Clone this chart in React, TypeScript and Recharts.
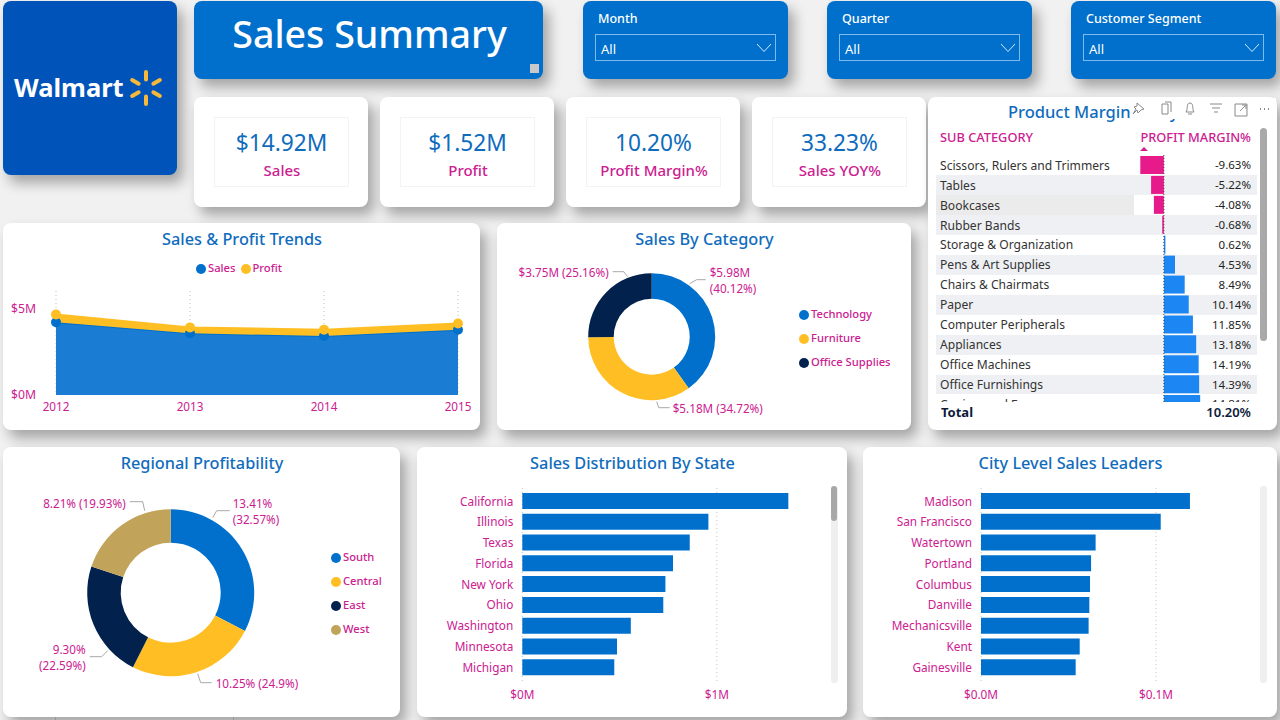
import React from 'react';
import {
  AreaChart, Area, BarChart, Bar, PieChart, Pie, Cell, XAxis, YAxis, CartesianGrid, ReferenceLine,
} from 'recharts';

const FONT = "'Noto Sans', sans-serif";
const BLUE = '#0070cc';
const TITLE_BLUE = '#0f6cbd';
const PINK = '#cc2090';
const YELLOW = '#ffbf24';
const NAVY = '#03214d';
const TAN = '#c2a35a';
const SHADOW = '6px 8px 13px rgba(0,0,0,0.32)';

// trends
const years = ['2012', '2013', '2014', '2015'];
const yearSales = [4.2, 3.56, 3.4, 3.76];
const yearProfit = [0.44, 0.34, 0.37, 0.37];

// category donut
const categories = ['Technology', 'Furniture', 'Office Supplies'];
const categorySales = [5.98, 5.18, 3.75];
const categoryLabels = [['$5.98M', '(40.12%)'], ['$5.18M (34.72%)'], ['$3.75M (25.16%)']];

// region donut
const regions = ['South', 'Central', 'East', 'West'];
const regionMargin = [13.41, 10.25, 9.3, 8.21];
const regionLabels = [['13.41%', '(32.57%)'], ['10.25% (24.9%)'], ['9.30%', '(22.59%)'], ['8.21% (19.93%)']];

// bars
const states = ['California', 'Illinois', 'Texas', 'Florida', 'New York', 'Ohio', 'Washington', 'Minnesota', 'Michigan'];
const stateSales = [1.368, 0.957, 0.861, 0.775, 0.736, 0.725, 0.558, 0.487, 0.473];
const cities = ['Madison', 'San Francisco', 'Watertown', 'Portland', 'Columbus', 'Danville', 'Mechanicsville', 'Kent', 'Gainesville'];
const citySales = [0.1194, 0.1027, 0.0655, 0.0629, 0.0623, 0.0619, 0.0615, 0.0564, 0.0541];

// margin table
const subCategories = [
  'Scissors, Rulers and Trimmers', 'Tables', 'Bookcases', 'Rubber Bands', 'Storage & Organization',
  'Pens & Art Supplies', 'Chairs & Chairmats', 'Paper', 'Computer Peripherals', 'Appliances',
  'Office Machines', 'Office Furnishings', 'Copiers and Fax',
];
const subMargins = [-9.63, -5.22, -4.08, -0.68, 0.62, 4.53, 8.49, 10.14, 11.85, 13.18, 14.19, 14.39, 14.81];

// header cards
const kpiValues = ['$14.92M', '$1.52M', '10.20%', '33.23%'];
const kpiNames = ['Sales', 'Profit', 'Profit Margin%', 'Sales YOY%'];
const slicers = ['Month', 'Quarter', 'Customer Segment'];

const trendData = years.map((year, i) => ({ year, sales: yearSales[i], profit: yearProfit[i] }));
const categoryData = categories.map((name, i) => ({ name, value: categorySales[i] }));
const regionData = regions.map((name, i) => ({ name, value: regionMargin[i] }));
const stateData = states.map((name, i) => ({ name, value: stateSales[i] }));
const cityData = cities.map((name, i) => ({ name, value: citySales[i] }));
const marginData = subCategories.map((name, i) => ({ name, value: subMargins[i] }));

// leader line points and text spot per slice, relative to the donut centre
const categoryCallouts = [
  { line: [[38, -53], [45, -57], [54, -57]], x: 58, ys: [-64, -48], anchor: 'start' },
  { line: [[5, 65], [7, 71], [18, 71]], x: 21, ys: [72], anchor: 'start' },
  { line: [[-24, -60], [-28, -65], [-39, -65]], x: -43, ys: [-64], anchor: 'end' },
];
const regionCallouts = [
  { line: [[42, -75], [46, -82], [59, -82]], x: 62, ys: [-89, -73], anchor: 'start' },
  { line: [[27, 81], [30, 90], [41, 90]], x: 45, ys: [91], anchor: 'start' },
  { line: [[-63, 58], [-69, 64], [-81, 64]], x: -85, ys: [57, 73], anchor: 'end' },
  { line: [[-26, -82], [-28, -91], [-41, -91]], x: -45, ys: [-89], anchor: 'end' },
];

function Txt({ x, y, size, color, anchor = 'start', weight = 400, children }: any) {
  const shift = anchor === 'middle' ? '-50%' : anchor === 'end' ? '-100%' : '0';
  return (
    <div
      style={{
        position: 'absolute', left: x, top: y, transform: `translate(${shift}, -50%)`, fontSize: size, color,
        fontWeight: weight, whiteSpace: 'nowrap', lineHeight: 1,
      }}
    >
      {children}
    </div>
  );
}

function Box({ x, y, w, h, bg = '#fff', children }: any) {
  return (
    <div style={{ position: 'absolute', left: x, top: y, width: w, height: h, background: bg, borderRadius: 8, boxShadow: SHADOW }}>
      {children}
    </div>
  );
}

function DotLegend({ x, ys, names, colors }: any) {
  return (
    <>
      {names.map((name: string, i: number) => (
        <React.Fragment key={name}>
          <div style={{ position: 'absolute', left: x - 5, top: ys[i] - 5, width: 10, height: 10, borderRadius: 5, background: colors[i] }} />
          <Txt x={x + 7} y={ys[i] - 1} size={11.2} color={PINK} weight={500}>{name}</Txt>
        </React.Fragment>
      ))}
    </>
  );
}

function calloutLabel(callouts: any[], lines: string[][]) {
  return (props: any) => {
    const c = callouts[props.index];
    const { cx, cy } = props;
    return (
      <g key={props.index}>
        <polyline
          points={c.line.map((p: number[]) => `${cx + p[0]},${cy + p[1]}`).join(' ')}
          fill="none" stroke="#a8a8a8" strokeWidth={1}
        />
        {lines[props.index].map((t, j) => (
          <text key={t} x={cx + c.x} y={cy + c.ys[j]} dy="0.35em" textAnchor={c.anchor} fontSize={11.7} fill={PINK} fontFamily={FONT}>
            {t}
          </text>
        ))}
      </g>
    );
  };
}

function TrendChart() {
  return (
    <AreaChart width={477} height={207} data={trendData} margin={{ top: 68, right: 22, bottom: 0, left: 0 }}>
      <CartesianGrid horizontal={false} strokeDasharray="1 3" stroke="#bdbdbd" />
      <XAxis
        dataKey="year" axisLine={false} tickLine={false} tickSize={0} tickMargin={8} height={35} interval={0}
        tick={{ fill: PINK, fontSize: 11.7, fontFamily: FONT }}
      />
      <YAxis
        domain={[0, 6]} ticks={[0, 5]} width={53} axisLine={false} tickLine={false} tickSize={0} tickMargin={20}
        tickFormatter={(v: number) => `$${v}M`} tick={{ fill: PINK, fontSize: 12.2, fontFamily: FONT }}
      />
      <Area
        type="linear" dataKey="sales" stackId="1" stroke={BLUE} strokeWidth={2} fill="#1a7cd2" fillOpacity={1}
        dot={{ r: 4, fill: BLUE, stroke: BLUE, fillOpacity: 1 }} isAnimationActive={false}
      />
      <Area
        type="linear" dataKey="profit" stackId="1" stroke={YELLOW} strokeWidth={2} fill={YELLOW} fillOpacity={1}
        dot={{ r: 4, fill: YELLOW, stroke: YELLOW, fillOpacity: 1 }} isAnimationActive={false}
      />
    </AreaChart>
  );
}

function Donut({ w, h, cx, cy, inner, outer, data, colors, label }: any) {
  return (
    <PieChart width={w} height={h} margin={{ top: 0, right: 0, bottom: 0, left: 0 }}>
      <Pie
        data={data} dataKey="value" cx={cx} cy={cy} innerRadius={inner} outerRadius={outer} startAngle={90} endAngle={-270}
        stroke="none" label={label} labelLine={false} isAnimationActive={false}
      >
        {data.map((entry: any, i: number) => (
          <Cell key={entry.name} fill={colors[i]} />
        ))}
      </Pie>
    </PieChart>
  );
}

function HBars({ w, h, axisWidth, right, data, domain, ticks, fmt }: any) {
  return (
    <BarChart width={w} height={h} data={data} layout="vertical" margin={{ top: 41, right, bottom: 0, left: 0 }} barSize={16}>
      <CartesianGrid horizontal={false} strokeDasharray="1 3" stroke="#c4c4c4" syncWithTicks />
      <XAxis
        type="number" domain={domain} ticks={ticks} axisLine={false} tickLine={false} tickSize={0} tickMargin={8} height={34}
        tickFormatter={fmt} tick={{ fill: PINK, fontSize: 11.8, fontFamily: FONT }}
      />
      <YAxis
        type="category" dataKey="name" width={axisWidth} axisLine={false} tickLine={false} tickSize={0} tickMargin={9} interval={0}
        padding={{ top: 3, bottom: 5 }} tick={{ fill: PINK, fontSize: 11.8, fontFamily: FONT }}
      />
      <Bar dataKey="value" fill={BLUE} isAnimationActive={false} />
    </BarChart>
  );
}

function MarginTable() {
  return (
    <>
      <div style={{ position: 'absolute', left: 936, top: 155.4, width: 321, height: 247, overflow: 'hidden' }}>
        {subCategories.map((name, i) => (
          <div
            key={name}
            style={{ position: 'absolute', left: 0, top: i * 19.92, width: 321, height: 19.92, background: i % 2 ? '#eef0f3' : '#fff' }}
          >
            {i === 2 && <div style={{ position: 'absolute', left: 0, top: 0, width: 198, height: 19.92, background: '#ebebeb' }} />}
            <Txt x={4} y={10.4} size={12.1} color="#333">{name}</Txt>
            <Txt x={315} y={10} size={11.5} color="#222" anchor="end">{subMargins[i].toFixed(2)}%</Txt>
          </div>
        ))}
        <div style={{ position: 'absolute', left: 0, top: 0 }}>
          <BarChart width={321} height={259} data={marginData} layout="vertical" margin={{ top: 0, right: 0, bottom: 0, left: 0 }} barSize={18}>
            <XAxis type="number" domain={[-93, 38]} hide />
            <YAxis type="category" dataKey="name" hide />
            <ReferenceLine x={0} stroke="#444" strokeDasharray="1 2" />
            <Bar dataKey="value" isAnimationActive={false}>
              {marginData.map((d) => (
                <Cell key={d.name} fill={d.value < 0 ? '#e71a8c' : '#1c86f2'} />
              ))}
            </Bar>
          </BarChart>
        </div>
      </div>
      <div style={{ position: 'absolute', left: 1260, top: 128, width: 7, height: 213, borderRadius: 4, background: '#a9a9a9' }} />
    </>
  );
}

function VisualIcons() {
  return (
    <svg style={{ position: 'absolute', left: 1128, top: 98, width: 148, height: 22 }} viewBox="0 0 148 22" fill="none" stroke="#8a8a8a" strokeWidth={1}>
      <path d="M9 5 l7 6 -3 1 -3 3 -1 -3 -4 4 3 -5 -2 -2 3 -1z" />
      <path d="M34 6 h6 v10 h-6z M37 4 h6 v10" />
      <path d="M58 14 c2 -2 0 -9 4 -9 s2 7 4 9z M60 16 h4" />
      <path d="M82 6 h12 M84 10 h8 M86 14 h4" />
      <path d="M107 6 h12 v12 h-12z M112 13 l6 -6 M114 7 h4 v4" />
      <path d="M132 11 h1 M136 11 h1 M140 11 h1" strokeWidth={2} />
    </svg>
  );
}

function Spark() {
  return (
    <svg style={{ position: 'absolute', left: 126, top: 68, width: 40, height: 40 }} viewBox="-20 -20 40 40">
      {[0, 60, 120, 180, 240, 300].map((a) => (
        <rect key={a} x={-2} y={-18} width={4} height={11.5} rx={2} fill="#f6b93b" transform={`rotate(${a})`} />
      ))}
    </svg>
  );
}

export default function App() {
  return (
    <div style={{ position: 'absolute', left: 0, top: 0, width: 1280, height: 720, background: '#f1f1f1', fontFamily: FONT, overflow: 'hidden' }}>
      <Box x={3} y={1} w={174} h={174} bg="#0053b8" />
      <Txt x={14} y={88} size={25.5} color="#fff" weight={700}>Walmart</Txt>
      <Spark />

      <Box x={194} y={1} w={349} h={78} bg={BLUE} />
      <Txt x={369.5} y={34} size={37.6} color="#fff" anchor="middle" weight={500}>Sales Summary</Txt>
      <div style={{ position: 'absolute', left: 530, top: 64, width: 9, height: 9, background: '#c9c9c9' }} />

      {slicers.map((name, i) => {
        const x = [583, 827, 1071][i];
        return (
          <React.Fragment key={name}>
            <Box x={x} y={1} w={205} h={78} bg={BLUE} />
            <Txt x={x + 15} y={18.5} size={12.5} color="#fff" weight={500}>{name}</Txt>
            <div style={{ position: 'absolute', left: x + 12, top: 34, width: 179, height: 25, border: '1px solid #7dbbec' }} />
            <Txt x={x + 18} y={48.5} size={13} color="#fff">All</Txt>
            <svg style={{ position: 'absolute', left: x + 173, top: 43, width: 16, height: 10 }} viewBox="0 0 16 10" fill="none" stroke="#d5e9fa" strokeWidth={1}>
              <polyline points="1,1 8,8.5 15,1" />
            </svg>
          </React.Fragment>
        );
      })}

      {kpiValues.map((value, i) => {
        const x = [194, 380, 566, 752][i];
        return (
          <React.Fragment key={value}>
            <Box x={x} y={97} w={174} h={110} />
            <div style={{ position: 'absolute', left: x + 20, top: 117, width: 133, height: 68, border: '1px solid #f3f3f3' }} />
            <Txt x={x + 87.5} y={143} size={22.7} color={TITLE_BLUE} anchor="middle">{value}</Txt>
            <Txt x={x + 88} y={170} size={15} color={PINK} anchor="middle" weight={500}>{kpiNames[i]}</Txt>
          </React.Fragment>
        );
      })}

      <Box x={928} y={97} w={349} h={333} />
      <Txt x={1008} y={111.5} size={16.5} color={TITLE_BLUE} weight={500}>Product Margin Analysis</Txt>
      <div style={{ position: 'absolute', left: 1130, top: 98, width: 146, height: 20.5, background: '#fff' }} />
      <VisualIcons />
      <Txt x={940} y={137} size={12.8} color={PINK} weight={500}>SUB CATEGORY</Txt>
      <Txt x={1251} y={137} size={12.8} color={PINK} anchor="end" weight={500}>PROFIT MARGIN%</Txt>
      <div style={{ position: 'absolute', left: 1140, top: 147, width: 0, height: 0, borderLeft: '4px solid transparent', borderRight: '4px solid transparent', borderBottom: `4px solid ${PINK}` }} />
      <MarginTable />
      <Txt x={941} y={412} size={13} color="#0d1b3a" weight={700}>Total</Txt>
      <Txt x={1251} y={412} size={13} color="#0d1b3a" anchor="end" weight={600}>10.20%</Txt>

      <Box x={3} y={223} w={477} h={207}>
        <TrendChart />
      </Box>
      <Txt x={242} y={238.5} size={16.3} color={TITLE_BLUE} anchor="middle" weight={500}>Sales &amp; Profit Trends</Txt>
      <DotLegend x={201} ys={[269]} names={['Sales']} colors={[BLUE]} />
      <DotLegend x={245.5} ys={[269]} names={['Profit']} colors={[YELLOW]} />

      <Box x={497} y={223} w={414} h={207}>
        <Donut
          w={414} h={207} cx={154.7} cy={113.7} inner={38} outer={63.5} data={categoryData}
          colors={[BLUE, YELLOW, NAVY]} label={calloutLabel(categoryCallouts, categoryLabels)}
        />
      </Box>
      <Txt x={704.5} y={238.5} size={16.3} color={TITLE_BLUE} anchor="middle" weight={500}>Sales By Category</Txt>
      <DotLegend x={804} ys={[314.5, 338.5, 362.5]} names={categories} colors={[BLUE, YELLOW, NAVY]} />

      <Box x={3} y={447} w={397} h={270}>
        <Donut
          w={397} h={270} cx={167.7} cy={145.7} inner={50} outer={83.5} data={regionData}
          colors={[BLUE, YELLOW, NAVY, TAN]} label={calloutLabel(regionCallouts, regionLabels)}
        />
      </Box>
      <Txt x={202} y={462.5} size={16.3} color={TITLE_BLUE} anchor="middle" weight={500}>Regional Profitability</Txt>
      <DotLegend x={336} ys={[558, 582, 606, 630]} names={regions} colors={[BLUE, YELLOW, NAVY, TAN]} />

      <Box x={417} y={447} w={430} h={270}>
        <HBars
          w={430} h={270} axisWidth={105.3} right={33} data={stateData} domain={[0, 1.5]} ticks={[0, 1]}
          fmt={(v: number) => `$${v}M`}
        />
        <div style={{ position: 'absolute', left: 413.5, top: 39, width: 7, height: 197, borderRadius: 3, background: '#efefef' }} />
        <div style={{ position: 'absolute', left: 414, top: 39, width: 6, height: 35, borderRadius: 3, background: '#a8a8a8' }} />
      </Box>
      <Txt x={632.5} y={462.5} size={16.3} color={TITLE_BLUE} anchor="middle" weight={500}>Sales Distribution By State</Txt>

      <Box x={863} y={447} w={414} h={270}>
        <HBars
          w={414} h={270} axisWidth={118} right={33.5} data={cityData} domain={[0, 0.15]} ticks={[0, 0.1]}
          fmt={(v: number) => `$${v.toFixed(1)}M`}
        />
        <div style={{ position: 'absolute', left: 397, top: 39, width: 7, height: 197, borderRadius: 3, background: '#efefef' }} />
      </Box>
      <Txt x={1070.5} y={462.5} size={16.3} color={TITLE_BLUE} anchor="middle" weight={500}>City Level Sales Leaders</Txt>

      <div style={{ position: 'absolute', left: 55, top: 717, width: 1, height: 3, background: '#999' }} />
      <div style={{ position: 'absolute', left: 233, top: 717, width: 1, height: 3, background: '#999' }} />
    </div>
  );
}
